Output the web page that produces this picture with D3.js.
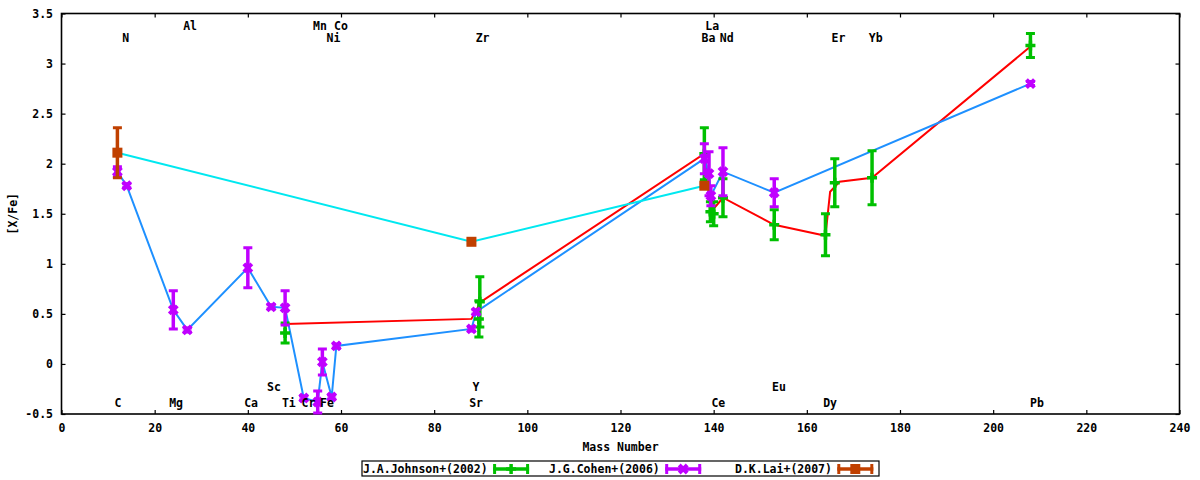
<!DOCTYPE html>
<html>
<head>
<meta charset="utf-8">
<script src="https://cdn.jsdelivr.net/npm/d3@7"></script>
<style>
  body { margin: 0; background: #fff; }
  svg text { font-family: "DejaVu Sans Mono", monospace; font-weight: bold; font-size: 11.5px; fill: #000; }
</style>
</head>
<body>
<div id="chart"></div>
<script>
const width = 1200, height = 480
const margin = { top: 13.5, right: 20.5, bottom: 66, left: 61.5 }

// J.A.Johnson+(2002)
const johnsonMass = [48, 89.6, 89.8, 138, 139.3, 140, 142, 153, 164, 166, 174, 208]
const johnsonVal  = [0.31, 0.45, 0.62, 2.10, 1.52, 1.50, 1.66, 1.39, 1.29, 1.81, 1.86, 3.18]
const johnsonErr  = [0.10, 0.18, 0.25, 0.26, 0.10, 0.12, 0.19, 0.15, 0.21, 0.24, 0.27, 0.12]

// J.G.Cohen+(2006)
const cohenMass = [12, 14, 24, 27, 40, 45, 48, 52, 55, 56, 58, 59, 88, 89, 138, 139, 139.4, 142, 153, 208]
const cohenVal  = [1.92, 1.78, 0.54, 0.34, 0.96, 0.57, 0.56, -0.34, -0.38, 0.02, -0.33, 0.18, 0.35, 0.52, 2.05, 1.90, 1.68, 1.92, 1.71, 2.80]
const cohenErr  = [0.05, 0.02, 0.19, 0.02, 0.20, 0.02, 0.17, 0.02, 0.11, 0.13, 0.02, 0.02, 0.02, 0.02, 0.15, 0.22, 0.10, 0.24, 0.14, 0.02]

// D.K.Lai+(2007)
const laiMass = [12, 88, 138]
const laiVal  = [2.11, 1.22, 1.78]
const laiErr  = [0.25, 0.02, 0.02]

// red guide line
const redMass = [48, 88, 90, 138, 140, 142, 153, 164, 165, 167, 174, 208]
const redVal  = [0.40, 0.45, 0.62, 2.10, 1.55, 1.66, 1.39, 1.28, 1.72, 1.82, 1.86, 3.17]

// element labels
const labelNames = ['C', 'N', 'Mg', 'Al', 'Ca', 'Sc', 'Ti', 'Cr', 'Mn', 'Fe', 'Ni', 'Co', 'Sr', 'Y', 'Zr',
                    'Ba', 'La', 'Ce', 'Nd', 'Eu', 'Dy', 'Er', 'Yb', 'Pb']
const labelMass  = [12.1, 13.8, 24.6, 27.6, 40.7, 45.6, 48.8, 53, 55.5, 57, 58.4, 60, 89, 89, 90.4,
                    138.9, 139.7, 141, 142.8, 154, 165, 166.8, 174.8, 209.4]
const labelLevel = [-0.39, 3.26, -0.39, 3.38, -0.39, -0.23, -0.39, -0.39, 3.38, -0.39, 3.26, 3.38, -0.39, -0.23, 3.26,
                    3.26, 3.38, -0.39, 3.26, -0.23, -0.39, 3.26, 3.26, -0.39]

const xTicks = [0, 20, 40, 60, 80, 100, 120, 140, 160, 180, 200, 220, 240]
const yTicks = [-0.5, 0, 0.5, 1, 1.5, 2, 2.5, 3, 3.5]

const colors = { johnson: '#00c000', cohen: '#c000ff', lai: '#c04000', red: '#ff0000', blue: '#1e90ff', cyan: '#00e8f0' }

const svg = d3.select('#chart').append('svg')
  .attr('width', width)
  .attr('height', height)

const x = d3.scaleLinear().domain([0, 240]).range([margin.left, width - margin.right])
const y = d3.scaleLinear().domain([-0.5, 3.5]).range([height - margin.bottom, margin.top])

const zip = (m, v, e) => m.map((d, i) => ({ m: d, v: v[i], e: e ? e[i] : 0 }))

// axes
const fmt = d => String(d)
svg.append('g')
  .attr('transform', `translate(0,${y(-0.5)})`)
  .call(d3.axisBottom(x).tickValues(xTicks).tickSize(-4).tickPadding(10).tickFormat(fmt))
svg.append('g')
  .attr('transform', `translate(0,${y(3.5)})`)
  .call(d3.axisTop(x).tickValues(xTicks).tickSize(-4).tickFormat(''))
svg.append('g')
  .attr('transform', `translate(${x(0)},0)`)
  .call(d3.axisLeft(y).tickValues(yTicks).tickSize(-4).tickPadding(8.5).tickFormat(fmt))
svg.append('g')
  .attr('transform', `translate(${x(240)},0)`)
  .call(d3.axisRight(y).tickValues(yTicks).tickSize(-4).tickFormat(''))

svg.selectAll('.domain').remove()
svg.selectAll('.tick line').attr('stroke', '#000').attr('stroke-width', 1.2)
svg.selectAll('.tick text').attr('font-family', null).attr('font-size', null)

svg.append('rect')
  .attr('x', x(0)).attr('y', y(3.5))
  .attr('width', x(240) - x(0)).attr('height', y(-0.5) - y(3.5))
  .attr('fill', 'none').attr('stroke', '#000').attr('stroke-width', 1.6)

svg.append('text')
  .attr('x', (x(0) + x(240)) / 2).attr('y', 451)
  .attr('text-anchor', 'middle')
  .text('Mass Number')
svg.append('text')
  .attr('transform', `translate(17,${(y(-0.5) + y(3.5)) / 2}) rotate(-90)`)
  .attr('text-anchor', 'middle')
  .text('[X/Fe]')

// connecting lines
const line = d3.line().x(d => x(d.m)).y(d => y(d.v))
const drawLine = (data, color) => svg.append('path')
  .datum(data)
  .attr('d', line)
  .attr('fill', 'none')
  .attr('stroke', color)
  .attr('stroke-width', 2)

drawLine(zip(redMass, redVal), colors.red)
drawLine(zip(cohenMass, cohenVal), colors.blue)
drawLine(zip(laiMass, laiVal), colors.cyan)

// markers
const drawMarker = (g, shape, color) => {
  if (shape === 'plus') {
    g.append('path').attr('d', 'M-5,0H5M0,-5V5').attr('stroke', color).attr('stroke-width', 3.5)
  } else if (shape === 'cross') {
    g.append('path').attr('d', 'M-4,-4L4,4M-4,4L4,-4').attr('stroke', color).attr('stroke-width', 4)
    g.append('rect').attr('x', -3).attr('y', -3).attr('width', 6).attr('height', 6).attr('fill', color)
  } else {
    g.append('rect').attr('x', -5).attr('y', -5).attr('width', 10).attr('height', 10).attr('fill', color)
  }
}

const drawErrorbars = (data, shape, color) => {
  const g = svg.append('g')
  const pts = g.selectAll('g').data(data).enter().append('g')
    .attr('transform', d => `translate(${x(d.m)},0)`)
  pts.append('line')
    .attr('y1', d => y(d.v - d.e)).attr('y2', d => y(d.v + d.e))
    .attr('stroke', color).attr('stroke-width', 3.5)
  pts.append('path')
    .attr('d', d => `M-4.5,${y(d.v - d.e)}H4.5M-4.5,${y(d.v + d.e)}H4.5`)
    .attr('stroke', color).attr('stroke-width', 3)
  pts.each(function (d) {
    drawMarker(d3.select(this).append('g').attr('transform', `translate(0,${y(d.v)})`), shape, color)
  })
}

drawErrorbars(zip(johnsonMass, johnsonVal, johnsonErr), 'plus', colors.johnson)
drawErrorbars(zip(cohenMass, cohenVal, cohenErr), 'cross', colors.cohen)
drawErrorbars(zip(laiMass, laiVal, laiErr), 'square', colors.lai)

// element labels
svg.append('g').selectAll('text')
  .data(labelNames.map((n, i) => ({ n, m: labelMass[i], v: labelLevel[i] })))
  .enter().append('text')
  .attr('x', d => x(d.m))
  .attr('y', d => y(d.v))
  .attr('dy', '0.36em')
  .attr('text-anchor', 'middle')
  .text(d => d.n)

// legend
const legendNames = ['J.A.Johnson+(2002)', 'J.G.Cohen+(2006)', 'D.K.Lai+(2007)']
const legendShapes = ['plus', 'cross', 'square']
const legendColors = [colors.johnson, colors.cohen, colors.lai]
const legendX = [363, 549, 735]
const ly = 469

const legend = svg.append('g')
legend.append('rect')
  .attr('x', 362).attr('y', 461).attr('width', 517).attr('height', 15)
  .attr('fill', 'none').attr('stroke', '#000').attr('stroke-width', 1.2)

legendNames.forEach((name, i) => {
  const c = legendColors[i]
  legend.append('text').attr('x', legendX[i]).attr('y', ly).attr('dy', '0.36em').text(name)
  const x1 = legendX[i] + name.length * 6.95 + 5, x2 = x1 + 36
  legend.append('line').attr('x1', x1).attr('x2', x2).attr('y1', ly).attr('y2', ly)
    .attr('stroke', c).attr('stroke-width', 3.5)
  legend.append('path').attr('d', `M${x1 + 1.5},${ly - 5}V${ly + 5}M${x2 - 1.5},${ly - 5}V${ly + 5}`)
    .attr('stroke', c).attr('stroke-width', 3)
  drawMarker(legend.append('g').attr('transform', `translate(${(x1 + x2) / 2},${ly})`), legendShapes[i], c)
})
</script>
</body>
</html>
